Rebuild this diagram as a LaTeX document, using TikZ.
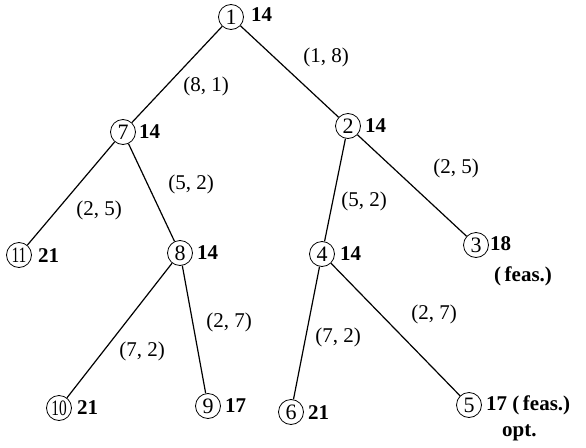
\documentclass[tikz,border=0pt]{standalone}
\usepackage{fontspec}
\setmainfont{Liberation Serif}
\begin{document}
\begin{tikzpicture}[x=1pt,y=-1pt,
  circ/.style={circle,draw,line width=0.8pt,inner sep=0pt,minimum size=25pt,font=\fontsize{22}{24}\selectfont},
  val/.style={anchor=west,inner sep=0pt,font=\fontsize{21}{23}\selectfont\bfseries},
  elab/.style={inner sep=0pt,font=\fontsize{21}{23}\selectfont},
  edge/.style={line width=1.2pt}]
\useasboundingbox (0,0) rectangle (586,447);
% nodes
\node[circ] (n1) at (231,17) {1};
\node[circ] (n7) at (123,132) {7};
\node[circ] (n2) at (348,126) {2};
\node[circ] (n11) at (19,255) {\scalebox{0.7}[1]{11}};
\node[circ] (n8) at (180,253) {8};
\node[circ] (n4) at (322,254) {4};
\node[circ] (n3) at (476,245) {3};
\node[circ] (n10) at (59,408) {\scalebox{0.7}[1]{10}};
\node[circ] (n9) at (208,406) {9};
\node[circ] (n6) at (291,412) {6};
\node[circ] (n5) at (469,405) {5};
% values
\node[val] (v1) at (251,15) {14};
\node[val] (v7) at (139,132) {14};
\node[val] (v2) at (365,126) {14};
\node[val] (v11) at (38,256) {21};
\node[val] (v8) at (197,253) {14};
\node[val] (v4) at (340,254) {14};
\node[val] (v3) at (490,244) {18};
\node[val] (f3) at (494,276) {(\,feas.)};
\node[val] (v10) at (77,408) {21};
\node[val] (v9) at (225,406) {17};
\node[val] (v6) at (308,413) {21};
\node[val] (v5) at (486,405) {17\ (\,feas.)};
\node[val] (o5) at (502,433) {opt.};
% edges
\draw[edge] (n1) -- (n7);
\draw[edge] (n1) -- (n2);
\draw[edge] (n7) -- (n11);
\draw[edge] (n7) -- (n8);
\draw[edge] (n2) -- (n4);
\draw[edge] (n2) -- (n3);
\draw[edge] (n8) -- (n10);
\draw[edge] (n8) -- (n9);
\draw[edge] (n4) -- (n6);
\draw[edge] (n4) -- (n5);
% edge labels
\node[elab] (e12) at (326,57) {(1,\ 8)};
\node[elab] (e17) at (206,86) {(8,\ 1)};
\node[elab] (e23) at (456,168) {(2,\ 5)};
\node[elab] (e78) at (191,184) {(5,\ 2)};
\node[elab] (e24) at (364,201) {(5,\ 2)};
\node[elab] (e711) at (99,210) {(2,\ 5)};
\node[elab] (e89) at (229,322) {(2,\ 7)};
\node[elab] (e45) at (434,314) {(2,\ 7)};
\node[elab] (e810) at (142,351) {(7,\ 2)};
\node[elab] (e46) at (338,337) {(7,\ 2)};
\end{tikzpicture}
\end{document}
